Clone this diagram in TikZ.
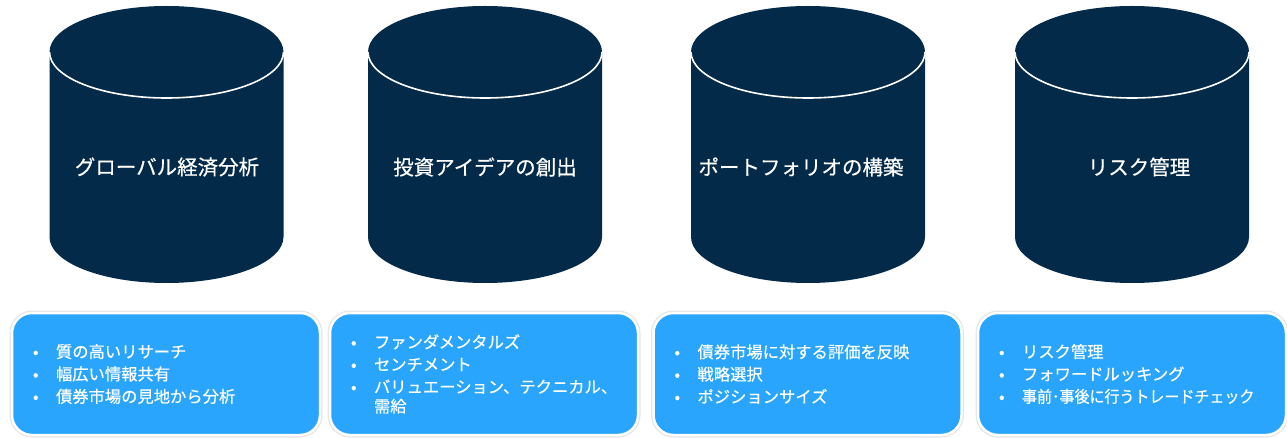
\documentclass[tikz,border=0pt]{standalone}
\usepackage{fontspec}
\usepackage{graphicx}
\setmainfont[FakeBold=0.5]{Noto Sans CJK JP}
\definecolor{navy}{HTML}{032A48}
\definecolor{sky}{HTML}{2AA5FD}
\tikzset{
  cyltext/.style={text=white, font=\fontsize{20.5}{24}\selectfont, inner sep=0pt},
  infobox/.style={fill=sky, rounded corners=20pt, minimum width=308pt, minimum height=122pt,
    text width=266pt, inner xsep=21pt, inner ysep=0pt, align=left, text=white,
    font=\fontsize{16.3}{22.4}\selectfont,
    preaction={draw=black!10, line width=5pt},
    draw=white, line width=2.5pt},
}
\newcommand{\bul}[1]{\makebox[23pt][l]{•}#1}
\newcommand{\cyl}[1]{%
  \fill[navy] (#1-117,200) -- (#1-117,385) arc[start angle=180,end angle=0,x radius=117pt,y radius=46pt]
     -- (#1+117,200) arc[start angle=0,end angle=-180,x radius=117pt,y radius=46pt] -- cycle;
  \draw[white, line width=1.6pt] (#1-117,385) arc[start angle=180,end angle=360,x radius=117pt,y radius=46pt];
}
\begin{document}
\begin{tikzpicture}[x=1pt,y=1pt]
\useasboundingbox (0,0) rectangle (1287,437);
\cyl{166.5}
\cyl{485}
\cyl{808}
\cyl{1132}
\node[cyltext] (c1) at (167,270) {グローバル経済分析};
\node[cyltext] (c2) at (485,270) {投資アイデアの創出};
\node[cyltext] (c3) at (801,270) {ポートフォリオの構築};
\node[cyltext] (c4) at (1139,270) {リスク管理};
\node[infobox] (b1) at (166,63) {\bul{質の高いリサーチ}\\\bul{幅広い情報共有}\\\bul{債券市場の見地から分析}};
\node[infobox] (b2) at (484,63) {\bul{ファンダメンタルズ}\\\bul{センチメント}\\\bul{バリュエーション、テクニカル、}\\[-3pt]\hspace*{23pt}需給};
\node[infobox] (b3) at (807.5,63) {\bul{債券市場に対する評価を反映}\\\bul{戦略選択}\\\bul{ポジションサイズ}};
\node[infobox] (b4) at (1132,63) {\bul{リスク管理}\\\bul{フォワードルッキング}\\\bul{\scalebox{0.92}[1]{事前･事後に行うトレードチェック}}};
\end{tikzpicture}
\end{document}
